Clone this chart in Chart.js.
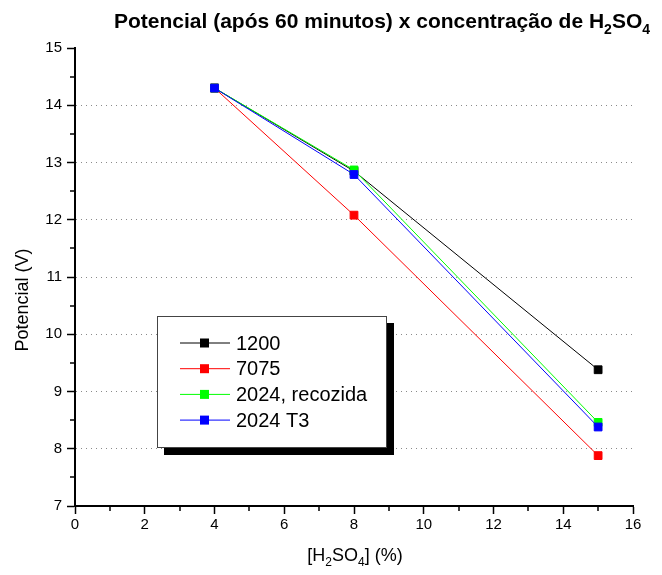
<!DOCTYPE html>
<html lang="pt">
<head>
  <meta charset="UTF-8">
  <title>Potencial x concentração de H2SO4</title>
  <script src="https://cdn.jsdelivr.net/npm/chart.js"></script>
  <style>
    html, body { margin: 0; padding: 0; background: #fff; }
    #box { width: 662px; height: 575px; }
  </style>
</head>
<body>
  <div id="box"><canvas id="grafico"></canvas></div>

<script>
  // dados
  const concentracoes = [4, 8, 15];
  const nomesSeries = ['1200', '7075', '2024, recozida', '2024 T3'];
  const pot1200 = [14.3, 12.85, 9.38];
  const pot7075 = [14.3, 12.08, 7.88];
  const pot2024rec = [14.3, 12.87, 8.46];
  const pot2024T3 = [14.3, 12.79, 8.38];
  const coresSeries = ['#000000', '#ff0000', '#00ff00', '#0000ff'];

  const xMin = 0, xMax = 16, xPasso = 2;
  const yMin = 7, yMax = 15, yPasso = 1;

  const FONTE = '"Liberation Sans", Arial, sans-serif';

  const valores = [pot1200, pot7075, pot2024rec, pot2024T3];

  function pontos(ys) {
    return concentracoes.map((x, i) => ({ x: x, y: ys[i] }));
  }

  const datasets = nomesSeries.map((nome, i) => ({
    label: nome,
    data: pontos(valores[i]),
    borderColor: coresSeries[i],
    backgroundColor: coresSeries[i],
    borderWidth: 1,
    pointStyle: 'rect',
    pointRadius: 5.5,
    pointBorderWidth: 1,
    pointHoverRadius: 5.5,
    tension: 0,
    order: nomesSeries.length - i  // azul por cima
  }));

  // escreve texto com subscritos: partes = [[texto, sub?], ...]
  function textoRico(ctx, partes, x, y, tam, negrito) {
    const f = (s) => (negrito ? 'bold ' : '') + s + 'px ' + FONTE;
    const sub = Math.round(tam * 0.68);
    let largura = 0;
    partes.forEach(p => {
      ctx.font = f(p[1] ? sub : tam);
      largura += ctx.measureText(p[0]).width;
    });
    let cx = x - largura / 2;
    ctx.textBaseline = 'alphabetic';
    ctx.textAlign = 'left';
    partes.forEach(p => {
      ctx.font = f(p[1] ? sub : tam);
      ctx.fillText(p[0], cx, p[1] ? y + tam * 0.3 : y);
      cx += ctx.measureText(p[0]).width;
    });
  }

  const extrasPlugin = {
    id: 'extras',
    afterDraw(chart) {
      const ctx = chart.ctx;
      const area = chart.chartArea;
      ctx.save();
      ctx.fillStyle = '#000';

      // título
      textoRico(ctx, [['Potencial (após 60 minutos) x concentração de H', false], ['2', true], ['SO', false], ['4', true]], 382, 28, 21, true);

      // título eixo x
      textoRico(ctx, [['[H', false], ['2', true], ['SO', false], ['4', true], ['] (%)', false]], 355, 561, 18, false);

      // título eixo y
      ctx.save();
      ctx.translate(28, 300);
      ctx.rotate(-Math.PI / 2);
      ctx.font = '18px ' + FONTE;
      ctx.textAlign = 'center';
      ctx.textBaseline = 'alphabetic';
      ctx.fillText('Potencial (V)', 0, 0);
      ctx.restore();

      // ticks menores
      ctx.strokeStyle = '#000';
      ctx.lineWidth = 1.5;
      const sx = chart.scales.x, sy = chart.scales.y;
      for (let i = 0; i < sx.ticks.length - 1; i++) {
        const px = Math.round(sx.getPixelForValue((sx.ticks[i].value + sx.ticks[i + 1].value) / 2));
        ctx.beginPath();
        ctx.moveTo(px, area.bottom);
        ctx.lineTo(px, area.bottom + 5);
        ctx.stroke();
      }
      for (let i = 0; i < sy.ticks.length - 1; i++) {
        const py = Math.round(sy.getPixelForValue((sy.ticks[i].value + sy.ticks[i + 1].value) / 2));
        ctx.beginPath();
        ctx.moveTo(area.left, py);
        ctx.lineTo(area.left - 5, py);
        ctx.stroke();
      }

      // legenda com sombra
      const lx = 157, ly = 316, lw = 230, lh = 132, sombra = 7;
      ctx.fillStyle = '#000';
      ctx.fillRect(lx + sombra, ly + sombra, lw, lh);
      ctx.fillStyle = '#fff';
      ctx.fillRect(lx, ly, lw, lh);
      ctx.strokeStyle = '#444';
      ctx.lineWidth = 1;
      ctx.strokeRect(lx + 0.5, ly + 0.5, lw - 1, lh - 1);

      ctx.font = '20px ' + FONTE;
      ctx.textAlign = 'left';
      ctx.textBaseline = 'middle';
      chart.data.datasets.forEach((ds, i) => {
        const y = ly + 27 + i * 25.7;
        ctx.strokeStyle = ds.borderColor;
        ctx.lineWidth = 1;
        ctx.beginPath();
        ctx.moveTo(180, y);
        ctx.lineTo(230, y);
        ctx.stroke();
        ctx.fillStyle = ds.backgroundColor;
        ctx.fillRect(200, y - 4.5, 9, 9);
        ctx.fillStyle = '#000';
        ctx.fillText(ds.label, 236, y + 1);
      });
      ctx.restore();
    }
  };

  new Chart(document.getElementById('grafico'), {
    type: 'line',
    data: { datasets: datasets },
    plugins: [extrasPlugin],
    options: {
      responsive: true,
      maintainAspectRatio: false,
      animation: false,
      layout: { padding: { top: 48, right: 29, left: 0, bottom: 0 } },
      plugins: {
        legend: { display: false },
        tooltip: { enabled: false },
        title: { display: false }
      },
      scales: {
        x: {
          type: 'linear',
          min: xMin,
          max: xMax,
          afterFit: (s) => { s.height = 69; },
          ticks: {
            stepSize: xPasso,
            color: '#000',
            padding: 2,
            maxRotation: 0,
            font: { family: FONTE, size: 15 }
          },
          grid: {
            drawOnChartArea: false,
            tickLength: 8,
            tickColor: '#000',
            tickWidth: 1.5
          },
          border: { color: '#000', width: 2 }
        },
        y: {
          type: 'linear',
          min: yMin,
          max: yMax,
          afterFit: (s) => { s.width = 75; },
          ticks: {
            stepSize: yPasso,
            color: '#000',
            padding: 5,
            font: { family: FONTE, size: 15 }
          },
          grid: {
            color: (c) => (c.tick && (c.tick.value === yMin || c.tick.value === yMax)) ? 'rgba(0,0,0,0)' : '#8a8a8a',
            lineWidth: 1,
            tickLength: 8,
            tickColor: '#000',
            tickWidth: 1.5,
            tickBorderDash: []
          },
          border: { color: '#000', width: 2, dash: [1, 4] }
        }
      }
    }
  });
</script>
</body>
</html>
